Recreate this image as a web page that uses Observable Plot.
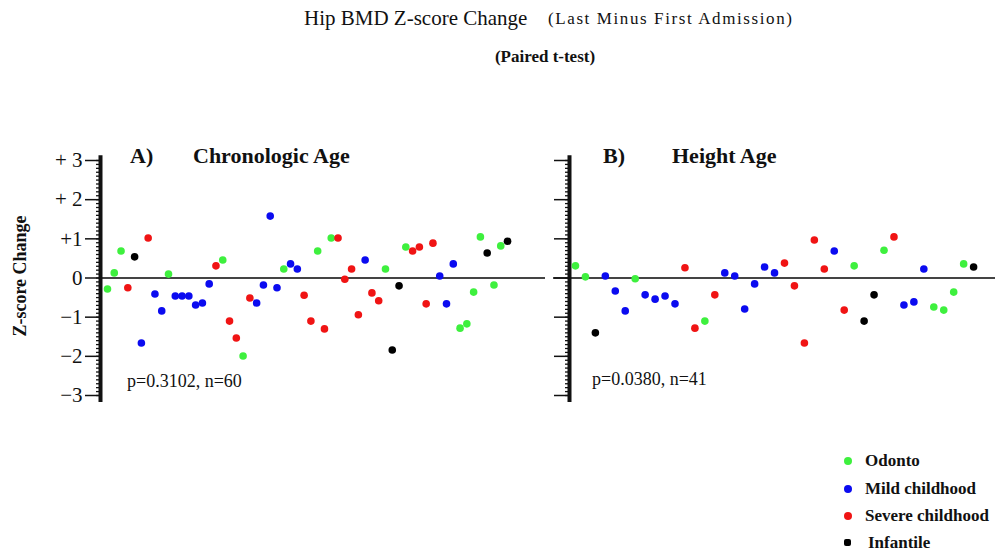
<!DOCTYPE html>
<html><head><meta charset="utf-8">
<script src="https://cdn.jsdelivr.net/npm/d3@7"></script>
<script src="https://cdn.jsdelivr.net/npm/@observablehq/plot@0.6"></script>
<style>
body{margin:0;background:#fff;}
#root{position:relative;width:996px;height:552px;overflow:hidden;font-family:"Liberation Serif",serif;color:#111;}
.abs{position:absolute;white-space:nowrap;line-height:24px;}
.plot{position:absolute;top:140px;}
.dot{position:absolute;width:8px;height:8px;border-radius:50%;}
</style></head><body><div id="root"></div>
<script>
// ---- data ----
const groups = ["Odonto", "Mild childhood", "Severe childhood", "Infantile"];
const groupCodes = ["O", "M", "S", "I"];
const groupColors = ["#3ef03e", "#0b0bf0", "#f01414", "#000000"];

const chronoGroups = [
  "O","O","O","S","I","M","S","M","M","O",
  "M","M","M","M","M","M","S","O","S","S",
  "O","S","M","M","M","M","O","M","M","S",
  "S","O","S","O","S","S","S","S","M","S",
  "S","O","I","I","O","S","S","S","S","M",
  "M","M","O","O","O","O","I","O","O","I"];
const chronoValues = [
  -0.28, 0.13, 0.69, -0.25, 0.54, -1.66, 1.02, -0.41, -0.84, 0.10,
  -0.46, -0.46, -0.46, -0.69, -0.64, -0.15, 0.31, 0.46, -1.10, -1.53,
  -1.99, -0.51, -0.64, -0.18, 1.58, -0.25, 0.23, 0.36, 0.23, -0.44,
  -1.10, 0.69, -1.30, 1.02, 1.02, -0.03, 0.23, -0.94, 0.46, -0.38,
  -0.58, 0.23, -1.84, -0.20, 0.79, 0.69, 0.79, -0.66, 0.89, 0.05,
  -0.66, 0.36, -1.28, -1.17, -0.36, 1.05, 0.64, -0.18, 0.82, 0.94];

const heightGroups = [
  "O","O","I","M","M","M","O","M","M","M",
  "M","S","S","O","S","M","M","M","M","M",
  "M","S","S","S","S","S","M","S","O","I",
  "I","O","S","M","M","M","O","O","O","O","I"];
const heightValues = [
  0.31, 0.03, -1.40, 0.05, -0.33, -0.84, -0.02, -0.43, -0.54, -0.46,
  -0.66, 0.26, -1.28, -1.10, -0.43, 0.13, 0.05, -0.79, -0.15, 0.28,
  0.13, 0.38, -0.20, -1.66, 0.97, 0.23, 0.69, -0.82, 0.31, -1.10,
  -0.43, 0.71, 1.05, -0.69, -0.61, 0.23, -0.74, -0.82, -0.36, 0.36, 0.28];

const majorTicks = [-3, -2, -1, 0, 1, 2, 3];
const majorLabels = ["\u22123", "\u22122", "\u22121", "0", "+1", "+ 2", "+ 3"];
const minorTicks = d3.range(-30, 31).map(k => k / 10);

const panelTitles = [["A)", "Chronologic Age"], ["B)", "Height Age"]];
const statsText = ["p=0.3102, n=60", "p=0.0380, n=41"];

// ---- build ----
function panel({values, codes, xDomain, width, marginLeft, marginRight, showLabels, zeroInsetLeft}) {
  const data = values.map((v, i) => ({i: i + 1, v, g: groups[groupCodes.indexOf(codes[i])]}));
  return Plot.plot({
    width, height: 270, marginTop: 20, marginBottom: 15, marginLeft, marginRight,
    x: {domain: xDomain, axis: null},
    y: {domain: [-3, 3], label: null},
    color: {domain: groups, range: groupColors},
    style: {fontFamily: "Liberation Serif", background: "transparent", overflow: "visible", color: "#111"},
    marks: [
      Plot.ruleY([0], {stroke: "#444", strokeWidth: 2, insetLeft: zeroInsetLeft}),
      Plot.axisY({ticks: minorTicks, tickSize: 4, tickFormat: () => "", strokeWidth: 1.3, label: null}),
      Plot.axisY({ticks: majorTicks, tickSize: 15, tickPadding: 3,
        tickFormat: d => showLabels ? majorLabels[majorTicks.indexOf(d)] : "",
        fontSize: 21, strokeWidth: 1.5, label: null}),
      Plot.ruleX([xDomain[0]], {y1: -3.18, y2: 3.12, strokeWidth: 4, stroke: "#111"}),
      Plot.dot(data, {x: "i", y: "v", fill: "g", r: 3.8})
    ]
  });
}

const root = document.getElementById("root");
function addText(txt, left, cy, css) {
  const d = document.createElement("div");
  d.className = "abs";
  d.textContent = txt;
  d.style.left = left + "px";
  d.style.top = (cy - 12) + "px";
  Object.assign(d.style, css || {});
  root.appendChild(d);
  return d;
}

const pA = panel({values: chronoValues, codes: chronoGroups, xDomain: [-0.03, 65.6],
  width: 560, marginLeft: 100, marginRight: 15, showLabels: true, zeroInsetLeft: 0});
pA.classList.add("plot"); pA.style.left = "0px";
root.appendChild(pA);

const pB = panel({values: heightValues, codes: heightGroups, xDomain: [0.4, 43.2],
  width: 526, marginLeft: 99, marginRight: 1, showLabels: false, zeroInsetLeft: -16});
pB.classList.add("plot"); pB.style.left = "470px";
root.appendChild(pB);

// titles
addText("Hip BMD Z-score Change", 304, 18, {fontSize: "21px"});
addText("(Last Minus First Admission)", 548, 19, {fontSize: "17px", letterSpacing: "1.6px"});
const sub = addText("(Paired t-test)", 545, 57, {fontSize: "17px", fontWeight: "bold"});
sub.style.transform = "translateX(-50%)";

// panel titles
addText(panelTitles[0][0], 130, 156, {fontSize: "22px", fontWeight: "bold"});
addText(panelTitles[0][1], 193, 156, {fontSize: "22px", fontWeight: "bold"});
addText(panelTitles[1][0], 603, 156, {fontSize: "22px", fontWeight: "bold"});
addText(panelTitles[1][1], 672, 156, {fontSize: "22px", fontWeight: "bold"});

// stats
addText(statsText[0], 127, 381, {fontSize: "18px"});
addText(statsText[1], 592, 379, {fontSize: "18px"});

// y label
const yl = addText("Z-score Change", 0, 0, {fontSize: "18px", fontWeight: "bold"});
yl.style.left = "20px"; yl.style.top = "276px";
yl.style.transform = "translate(-50%,-50%) rotate(-90deg)";

// legend
const legendY = [461, 489, 516, 543];
groups.forEach((g, k) => {
  const dot = document.createElement("div");
  dot.className = "dot";
  dot.style.background = groupColors[k];
  dot.style.left = "844px";
  dot.style.top = (legendY[k] - 4) + "px";
  if (k === 3) { dot.style.borderRadius = "2px"; dot.style.width = "7px"; dot.style.height = "7px"; }
  root.appendChild(dot);
  addText(g, k === 3 ? 868 : 865, legendY[k], {fontSize: "17px", fontWeight: "bold"});
});
</script></body></html>
